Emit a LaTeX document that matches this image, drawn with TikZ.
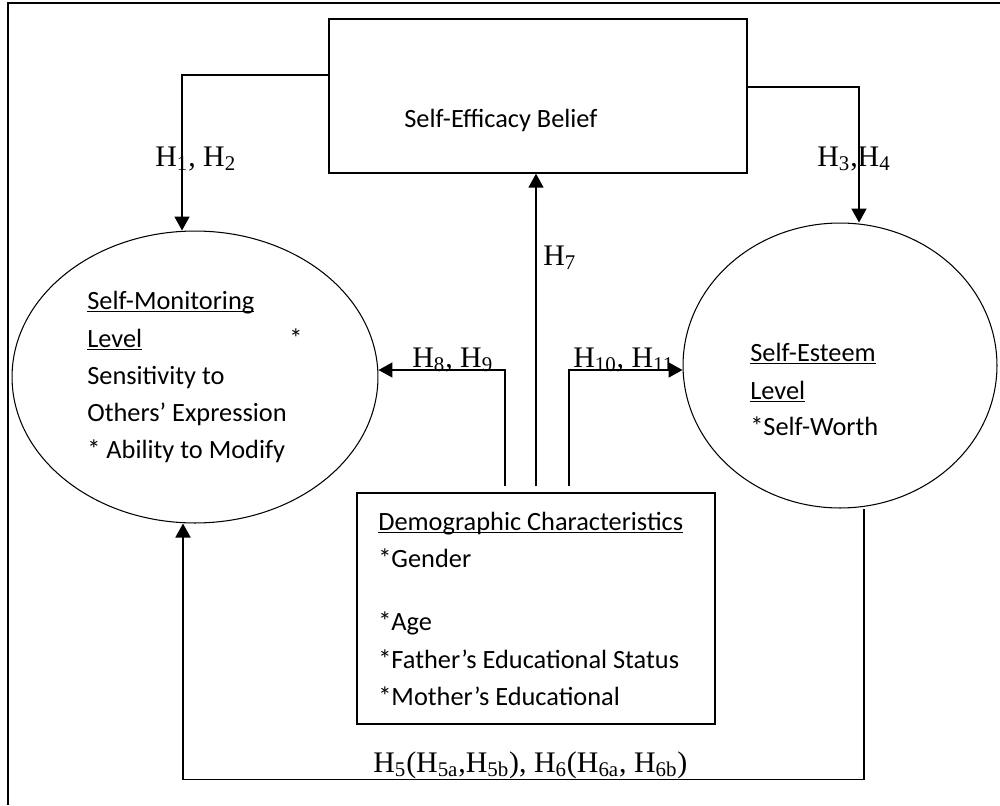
\documentclass[tikz,border=0pt]{standalone}
\usepackage{fontspec}
\setmainfont{Carlito}
\newfontfamily\hypfont{Liberation Serif}
\usetikzlibrary{shapes.geometric,arrows.meta,calc}

% fixed-depth underline, as in the word-processor original
\newcommand{\ulword}[1]{\setbox0\hbox{#1}\rlap{\rule[-1.8pt]{\wd0}{0.8pt}}\box0}
\newcommand{\hyp}[1]{H\textsubscript{#1}}

\tikzset{
  framebox/.style={draw, line width=0.8pt, inner sep=0pt},
  bubble/.style={draw, ellipse, line width=0.6pt, inner sep=0pt},
  body/.style={anchor=base west, inner sep=0pt, font=\fontsize{15}{18}\selectfont},
  hlabel/.style={anchor=base west, inner sep=0pt, font=\hypfont\fontsize{17}{20}\selectfont},
  link/.style={line width=1pt, -{Triangle[length=0.28cm,width=0.3cm]}},
}

\begin{document}
\begin{tikzpicture}[x=0.02cm, y=-0.02cm]
  \useasboundingbox (0,0) rectangle (1000,805);

  % outer frame (cut at right and bottom)
  \draw[line width=1.6pt] (8,805) -- (8,3) -- (1000,3);

  % boxes and ellipses
  \node[framebox, minimum width=8.36cm, minimum height=3.08cm] (belief) at (538,96) {};
  \node[bubble, minimum width=7.32cm, minimum height=5.84cm] (monitor) at (195,377) {};
  \node[bubble, minimum width=6.28cm, minimum height=5.7cm] (esteem) at (840,365.5) {};
  \node[framebox, minimum width=7.16cm, minimum height=4.62cm] (demo) at (536,608.5) {};

  % texts inside
  \node[body] (beliefText) at (404,127) {Self-Efficacy Belief};

  \foreach \txt/\y [count=\i] in {{\ulword{Self-Monitoring}}/309, {\ulword{Level}}/347,
      Sensitivity to/384, Others’ Expression/421, * Ability to Modify/458} {
    \node[body] (mon\i) at (87,\y) {\txt};
  }
  \node[body] (monStar) at (289,347) {*};

  \foreach \txt/\y [count=\i] in {{\ulword{Self-Esteem}}/361, {\ulword{Level}}/399, *Self-Worth/435} {
    \node[body] (est\i) at (750,\y) {\txt};
  }

  \foreach \txt/\y [count=\i] in {{\ulword{Demographic Characteristics}}/530, *Gender/567, *Age/630,
      *Father’s Educational Status/668, *Mother’s Educational/705} {
    \node[body] (dem\i) at (378,\y) {\txt};
  }

  % connectors
  \draw[link] ([yshift=0.42cm]belief.west) -| ([xshift=-0.26cm]monitor.north);
  \draw[link] ([yshift=0.18cm]belief.east) -| ([xshift=0.38cm]esteem.north);
  \draw[link] ([yshift=0.12cm]demo.north) -- (demo.north |- belief.south);
  \draw[link] ([xshift=-0.62cm,yshift=0.12cm]demo.north) |- ([yshift=0.14cm]monitor.east);
  \draw[link] ([xshift=0.66cm,yshift=0.12cm]demo.north) |- ([yshift=-0.09cm]esteem.west);
  \draw[link] ([xshift=0.48cm]esteem.south) -- ++(0,271) -| ([xshift=-0.24cm]monitor.south);

  % hypothesis labels
  \node[hlabel] (h12) at (155,166) {\hyp{1}, \hyp{2}};
  \node[hlabel] (h34) at (817,166) {\hyp{3},\hyp{4}};
  \node[hlabel] (h7) at (543,265) {\hyp{7}};
  \node[hlabel] (h89) at (412,367) {\hyp{8}, \hyp{9}};
  \node[hlabel] (h1011) at (573,367) {\hyp{10}, \hyp{11}};
  \node[hlabel] (h56) at (373,772) {\hyp{5}(\hyp{5a},\hyp{5b}), \hyp{6}(\hyp{6a}, \hyp{6b})};
\end{tikzpicture}
\end{document}
